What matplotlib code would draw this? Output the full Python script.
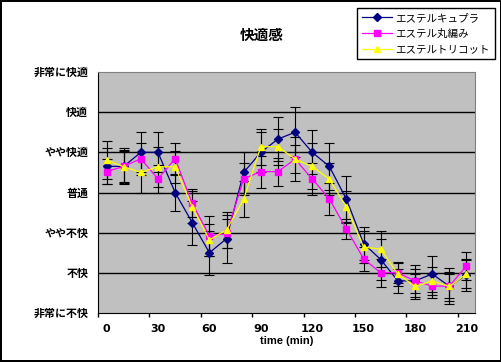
import matplotlib
matplotlib.use("Agg")
import matplotlib.pyplot as plt

# データ (時間 min)
times = [0, 10, 20, 30, 40, 50, 60, 70, 80, 90, 100,
         110, 120, 130, 140, 150, 160, 170, 180, 190, 200, 210]

cupra = [0.65, 0.65, 1.0, 1.0, 0.0, -0.75, -1.5, -1.15, 0.5, 1.0, 1.33,
         1.5, 1.0, 0.65, -0.17, -1.27, -1.67, -2.2, -2.2, -2.03, -2.33, -2.05]
maru = [0.52, 0.65, 0.84, 0.34, 0.84, -0.27, -1.08, -1.02, 0.34, 0.52, 0.52,
        0.83, 0.34, -0.16, -0.91, -1.65, -2.0, -2.0, -2.2, -2.33, -2.33, -1.83]
tricot = [0.81, 0.64, 0.5, 0.64, 0.64, -0.36, -1.18, -0.93, -0.17, 1.14, 1.14,
          0.83, 0.65, 0.33, -0.36, -1.36, -1.41, -2.03, -2.34, -2.2, -2.34, -2.03]

cupra_err = [0.45, 0.45, 0.5, 0.5, 0.45, 0.55, 0.55, 0.6, 0.5, 0.5, 0.55,
             0.62, 0.55, 0.58, 0.57, 0.4, 0.5, 0.3, 0.4, 0.45, 0.45, 0.4]
maru_err = [0.32, 0.4, 0.4, 0.35, 0.4, 0.35, 0.5, 0.35, 0.4, 0.4, 0.35,
            0.54, 0.4, 0.4, 0.26, 0.3, 0.35, 0.25, 0.3, 0.3, 0.3, 0.35]
tricot_err = [0.48, 0.4, 0.5, 0.5, 0.4, 0.4, 0.4, 0.45, 0.45, 0.45, 0.45,
              0.35, 0.57, 0.4, 0.4, 0.4, 0.45, 0.3, 0.3, 0.35, 0.35, 0.35]

series_names = ["エステルキュプラ", "エステル丸編み", "エステルトリコット"]
y_labels = ["非常に不快", "不快", "やや不快", "普通", "やや快適", "快適", "非常に快適"]
y_levels = [-3, -2, -1, 0, 1, 2, 3]
x_ticks = [0, 30, 60, 90, 120, 150, 180, 210]

jp = ["Noto Sans CJK JP", "DejaVu Sans"]

fig = plt.figure(figsize=(5.02, 3.62), dpi=100, linewidth=1.5, edgecolor="black")
ax = fig.add_axes([98 / 502, 1 - 313 / 362, 377 / 502, 241 / 362])
ax.set_facecolor("#c0c0c0")

for v in y_levels[1:-1]:
    ax.axhline(v, color="black", lw=1.0, zorder=1)

styles = [
    (cupra, cupra_err, "#000080", "D", 3.8),
    (maru, maru_err, "#ff00ff", "s", 4.3),
    (tricot, tricot_err, "#ffff00", "^", 5.0),
]
for (vals, err, col, mk, ms), name in zip(styles, series_names):
    ax.errorbar(times, vals, yerr=err, fmt="none", ecolor="black",
                elinewidth=0.8, capsize=3.5, capthick=0.8, zorder=2)
    ax.plot(times, vals, color=col, lw=0.9, marker=mk, markersize=ms,
            markerfacecolor=col, markeredgecolor=col, label=name, zorder=3)

ax.set_xlim(-5, 215)
ax.set_ylim(-3, 3)
ax.set_xticks(x_ticks)
ax.set_xticklabels([str(t) for t in x_ticks], fontweight="bold", fontsize=8,
                   family="DejaVu Sans")
ax.set_xticks([t + 25 for t in x_ticks[:-1]] + [-5], minor=True)
ax.tick_params(axis="x", which="major", length=0, pad=8)
ax.tick_params(axis="x", which="minor", length=3, direction="out", width=1)
ax.set_yticks(y_levels)
ax.set_yticklabels(y_labels, fontsize=7.9, fontweight="bold", family=jp)
ax.tick_params(axis="y", length=0, pad=7)
ax.set_xlabel("time (min)", fontsize=8, fontweight="bold",
              family="Liberation Sans", labelpad=1)

ax.spines["left"].set_color("black")
ax.spines["bottom"].set_color("black")
ax.spines["top"].set_color("#808080")
ax.spines["right"].set_color("#808080")

fig.text(262 / 502, 1 - 35 / 362, "快適感", fontsize=10.5, fontweight="bold",
         family=jp, ha="center", va="center")

leg = fig.legend(loc="upper left", bbox_to_anchor=(357 / 502, 1 - 8 / 362),
                 prop={"family": jp, "size": 7.6}, frameon=True, fancybox=False,
                 edgecolor="black", framealpha=1, handlelength=2.9,
                 borderpad=0.45, labelspacing=0.55, handletextpad=0.3,
                 borderaxespad=0)
leg.get_frame().set_linewidth(1.0)

fig.savefig("out.png", dpi=100)
